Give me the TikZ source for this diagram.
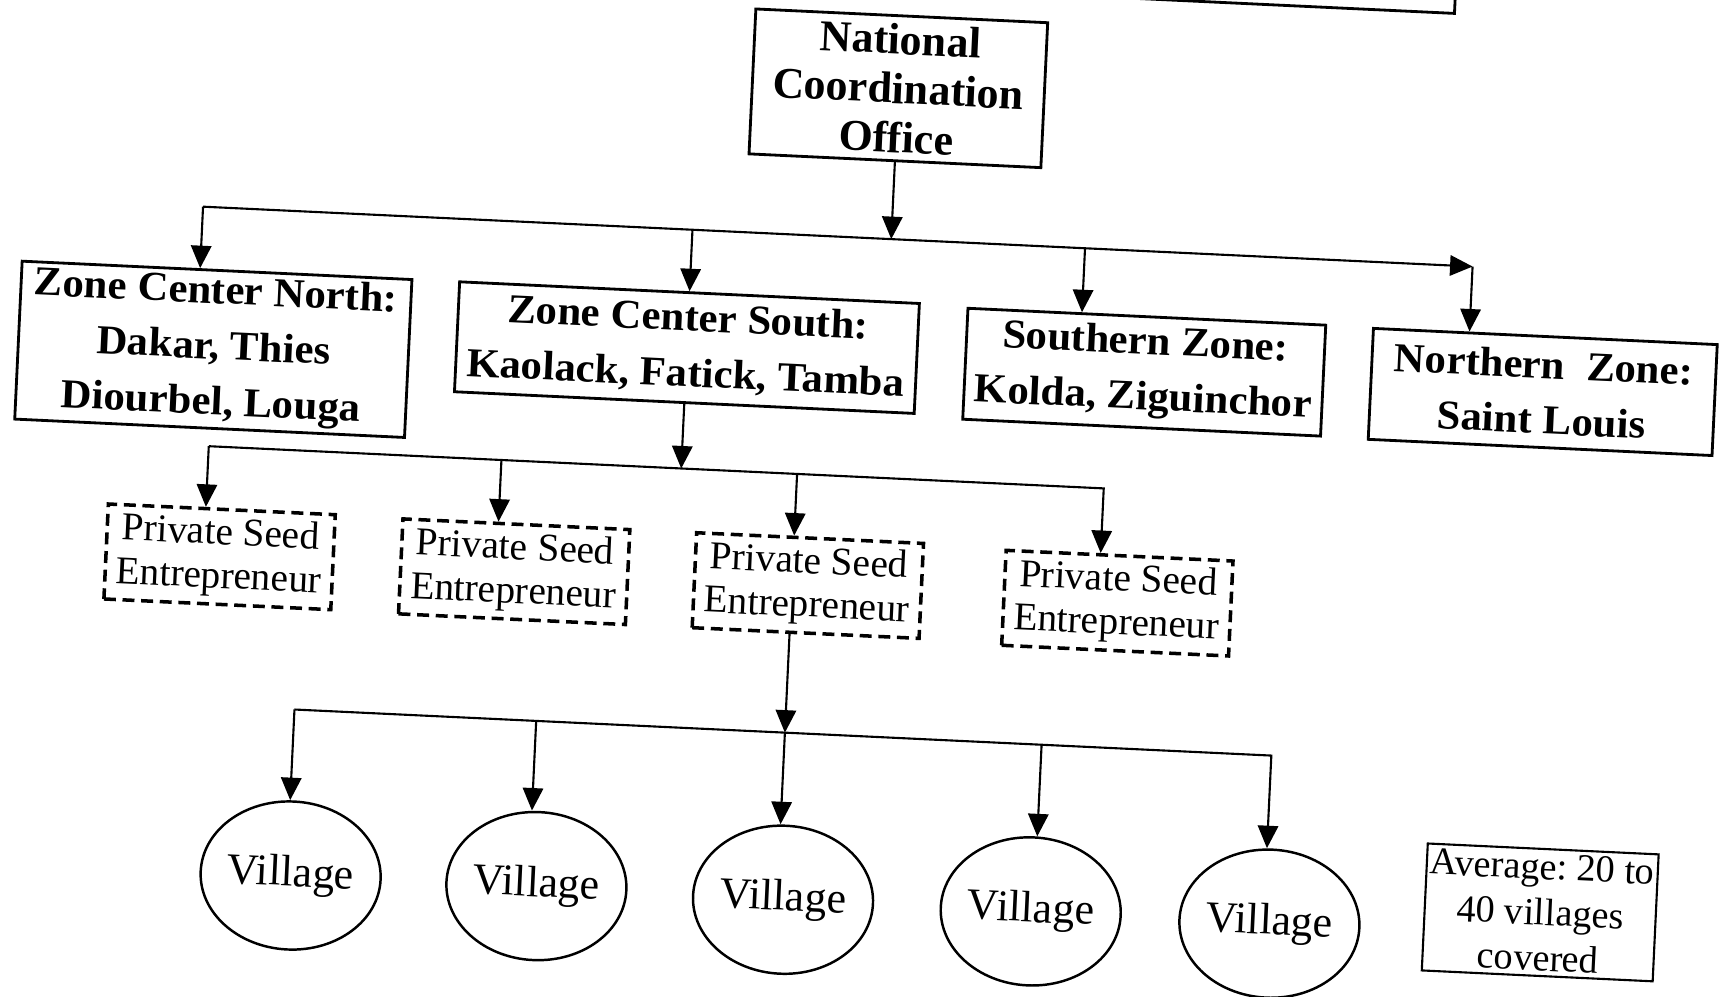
\documentclass[tikz,border=0pt]{standalone}
\usepackage{fontspec}
\setmainfont{Liberation Serif}
\newfontfamily\zonefont[FakeStretch=1.04]{Liberation Serif}
\usetikzlibrary{arrows.meta,shapes.geometric}

\tikzset{
  box/.style={draw, line width=0.8pt, rectangle, inner sep=0pt, align=center},
  officebox/.style={box, font=\bfseries\fontsize{12.5}{14}\selectfont},
  zonebox/.style={box, font=\zonefont\bfseries\fontsize{11.7}{15.8}\selectfont},
  seedbox/.style={draw, line width=1pt, dash pattern=on 3.4pt off 1.9pt,
    inner sep=0pt, align=center, minimum width=2.27cm, minimum height=0.95cm,
    font=\fontsize{11.2}{12.4}\selectfont},
  villagenode/.style={draw, ellipse, line width=0.7pt, inner sep=0pt,
    minimum width=1.8cm, minimum height=1.48cm, font=\fontsize{12.5}{14}\selectfont},
  notebox/.style={draw, line width=0.6pt, inner sep=0pt, align=center,
    minimum width=2.31cm, minimum height=1.27cm, font=\frenchspacing\fontsize{10.9}{13}\selectfont},
  link/.style={line width=0.6pt},
  arrowlink/.style={link, -{Triangle[length=6.4pt,width=5.8pt]}},
}

\begin{document}
\begin{tikzpicture}[x=0.01cm,y=-0.01cm]
\useasboundingbox (0,0) rectangle (1723,997);
\clip (0,0) rectangle (1723,997);
\begin{scope}[transform canvas={rotate around={-2.7:(861.5,498.5)}}]

  % box running off the top edge
  \draw[line width=0.8pt] (1000,-200) rectangle (1431,-14);

  % head office
  \node[officebox, minimum width=2.92cm, minimum height=1.45cm] (nco) at (879,87)
    {National\\Coordination\\Office};

  % zones
  \node[zonebox, minimum width=3.90cm, minimum height=1.58cm] (zcn) at (207,380)
    {Zone Center North:\\Dakar, Thies\\Diourbel, Louga};
  \node[zonebox, minimum width=4.60cm, minimum height=1.10cm] (zcs) at (680,356)
    {Zone Center South:\\Kaolack, Fatick, Tamba};
  \node[zonebox, minimum width=3.58cm, minimum height=1.11cm] (sz) at (1138,359)
    {Southern Zone:\\Kolda, Ziguinchor};
  \node[zonebox, minimum width=3.44cm, minimum height=1.11cm] (nz) at (1537,360)
    {Northern\ \ Zone:\\Saint Louis};

  % private seed entrepreneurs
  \node[seedbox] (pse1) at (223,587) {Private Seed\\Entrepreneur};
  \node[seedbox] (pse2) at (518,588) {Private Seed\\Entrepreneur};
  \node[seedbox] (pse3) at (812,588) {Private Seed\\Entrepreneur};
  \node[seedbox] (pse4) at (1122,591) {Private Seed\\Entrepreneur};

  % villages
  \node[villagenode] (v1) at (309,902) {Village};
  \node[villagenode] (v2) at (555,901) {Village};
  \node[villagenode] (v3) at (802,903) {Village};
  \node[villagenode] (v4) at (1050,903) {Village};
  \node[villagenode] (v5) at (1289,904) {Village};

  \node[notebox] (avg) at (1559,880) {Average: 20 to\\40 villages\\covered};

  % bus under the head office
  \coordinate (b1L) at (190,238);
  \coordinate (b1R) at (1461,238);
  \coordinate (b1s) at (1073,238);
  \draw[arrowlink] (nco.south) -- (nco.south |- b1L);
  \draw[arrowlink] (b1L) -- (b1R);
  \draw[arrowlink] (b1L) -- (b1L |- zcn.north);
  \draw[arrowlink] (zcs.north |- b1L) -- (zcs.north);
  \draw[arrowlink] (b1s) -- (b1s |- sz.north);
  \draw[arrowlink] (b1R) -- (b1R |- nz.north);

  % bus under Zone Center South
  \coordinate (b2L) at (207,477);
  \coordinate (b2R) at (1103,477);
  \coordinate (b2b) at (500,477);
  \coordinate (b2c) at (796,477);
  \draw[arrowlink] (zcs.south) -- (zcs.south |- b2L);
  \draw[arrowlink] (b2L) -- (b2R) -- (b2R |- pse4.north);
  \draw[arrowlink] (b2L) -- (b2L |- pse1.north);
  \draw[arrowlink] (b2b) -- (b2b |- pse2.north);
  \draw[arrowlink] (b2c) -- (b2c |- pse3.north);

  % bus under the third entrepreneur
  \coordinate (b3L) at (305,736);
  \coordinate (b3R) at (1283,736);
  \coordinate (b3b) at (547,736);
  \coordinate (b3c) at (796,736);
  \coordinate (b3d) at (1053,736);
  \draw[arrowlink] (b2c |- pse3.south) -- (b3c);
  \draw[arrowlink] (b3L) -- (b3R) -- (b3R |- v5.north);
  \draw[arrowlink] (b3L) -- (b3L |- v1.north);
  \draw[arrowlink] (b3b) -- (b3b |- v2.north);
  \draw[arrowlink] (b3c) -- (b3c |- v3.north);
  \draw[arrowlink] (b3d) -- (b3d |- v4.north);

\end{scope}
\end{tikzpicture}
\end{document}
